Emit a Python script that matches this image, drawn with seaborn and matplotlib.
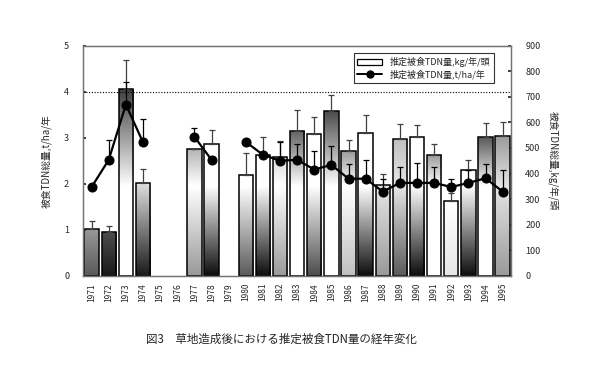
# Recreation of Fig.3: estimated grazed TDN over years after pasture establishment
import numpy as np
import pandas as pd
import matplotlib
matplotlib.use('Agg')
import matplotlib.pyplot as plt
import seaborn as sns
from matplotlib.lines import Line2D
from matplotlib.patches import Patch

# -------------------------------
# DATA
# -------------------------------
years = list(range(1971, 1996))
nan = np.nan

# bars: 推定被食TDN量 kg/年/頭 (right axis)
bar_kg = [182, 170, 730, 364, nan, nan, 496, 516, nan, 396, 471, 466, 565,
          555, 644, 490, 558, 356, 536, 543, 473, 294, 414, 542, 547]
bar_err = [34, 26, 113, 54, nan, nan, 0, 55, nan, 85, 72, 60, 83,
           66, 62, 41, 71, 43, 56, 47, 43, 31, 39, 54, 54]

# line: 推定被食TDN量 t/ha/年 (left axis)
line_t = [1.93, 2.52, 3.72, 2.90, nan, nan, 3.02, 2.52, nan, 2.91, 2.63, 2.50, 2.52,
          2.31, 2.41, 2.11, 2.11, 1.83, 2.02, 2.02, 2.02, 1.93, 2.02, 2.12, 1.83]
line_err = [0, 0.44, 0.49, 0.51, nan, nan, 0.19, 0, nan, 0, 0, 0.41, 0.34,
            0.40, 0.40, 0.33, 0.41, 0.28, 0.35, 0.44, 0.35, 0.18, 0.28, 0.32, 0.47]

# gradient shades of each bar (0 = black, 1 = white)
shade_top = [0.60, 0.30, 0.25, 0.95, nan, nan, 0.70, 1.00, nan, 1.00, 1.00, 0.85, 0.40,
             1.00, 0.30, 0.60, 1.00, 0.85, 0.75, 1.00, 0.60, 1.00, 1.00, 0.35, 0.60]
shade_mid = [0.60, 0.30, 1.00, 0.85, nan, nan, 1.00, 1.00, nan, 1.00, 1.00, 1.00, 1.00,
             1.00, 1.00, 1.00, 1.00, 0.90, 0.90, 1.00, 1.00, 1.00, 1.00, 1.00, 0.90]
shade_bot = [0.35, 0.10, 1.00, 0.10, nan, nan, 0.60, 0.05, nan, 0.35, 0.05, 0.60, 1.00,
             0.30, 1.00, 0.75, 0.05, 0.60, 0.35, 0.05, 1.00, 0.90, 0.05, 1.00, 0.60]
MID_LEVEL = 350

ref_line = 4.0

sns.set_theme(style="white")
plt.rcParams['font.family'] = ['Noto Sans CJK JP', 'DejaVu Sans']

df = pd.DataFrame({
    "year": [str(y) for y in years],
    "kg": bar_kg,
    "t": line_t,
    "pos": np.arange(len(years)),
})
# segments so the line breaks at missing years
df["seg"] = df["t"].isna().cumsum()

fig = plt.figure(figsize=(5.89, 3.67), dpi=100)
ax = fig.add_axes([0.141, 0.248, 0.727, 0.628])
ax2 = ax.twinx()

# -------------------------------
# BARS (right axis)
# -------------------------------
sns.barplot(data=df.dropna(subset=["kg"]), x="year", y="kg", order=df["year"].tolist(),
            ax=ax2, color="white", edgecolor="black", linewidth=1.1, width=0.84,
            errorbar=None)

grad_n = 200
for p in list(ax2.patches):
    h = p.get_height()
    if h <= 0:
        continue
    i = int(round(p.get_x() + p.get_width() / 2))
    yy = np.linspace(0, h, grad_n)
    if h > MID_LEVEL:
        g = np.interp(yy, [0, MID_LEVEL, h], [shade_bot[i], shade_mid[i], shade_top[i]])
    else:
        g = np.interp(yy, [0, h], [shade_bot[i], shade_top[i]])
    img = ax2.imshow(g[:, None], extent=[p.get_x(), p.get_x() + p.get_width(), 0, h],
                     origin="lower", cmap="gray", vmin=0, vmax=1, aspect="auto",
                     zorder=p.get_zorder() - 0.1)
    img.set_clip_path(p)
    p.set_facecolor("none")

ax2.errorbar(df["pos"], df["kg"], yerr=[np.zeros(len(years)), bar_err], fmt="none",
             ecolor="0.25", elinewidth=0.9, capsize=2.5, capthick=0.9)

ax2.set_xlim(-0.5, len(years) - 0.5)
ax2.set_ylim(0, 900)
ax2.set_yticks(range(0, 901, 100))
ax2.set_ylabel("被食TDN総量,kg/年/頭", rotation=270, labelpad=13, fontsize=7)

# -------------------------------
# LINE (left axis)
# -------------------------------
ax.set_zorder(ax2.get_zorder() + 1)
ax.patch.set_visible(False)
ax.axhline(ref_line, color="black", linestyle=(0, (1, 1.5)), linewidth=0.8)
ax.errorbar(df["pos"], df["t"], yerr=[np.zeros(len(years)), line_err], fmt="none",
            ecolor="black", elinewidth=0.9, capsize=2.5, capthick=0.9)
sns.lineplot(data=df.dropna(subset=["t"]), x="pos", y="t", units="seg", estimator=None,
             color="black", linewidth=1.6, marker="o", markersize=6.5,
             markeredgecolor="black", ax=ax)
ax.set_xlim(-0.5, len(years) - 0.5)
ax.set_ylim(0, 5)
ax.set_yticks(range(0, 6))
ax.set_xticks(df["pos"])
ax.set_xticklabels(df["year"], rotation=90, fontsize=6)
ax.set_xlabel("")
ax.set_ylabel("被食TDN総量,t/ha/年", fontsize=7, labelpad=9)

for a in (ax, ax2):
    a.tick_params(axis="y", labelsize=6.5, length=2, direction="in", pad=10)
    a.tick_params(axis="x", length=0, pad=5)
    for s in a.spines.values():
        s.set_color("0.45")
        s.set_linewidth(0.9)
ax2.set_xlabel("")
ax2.tick_params(axis="x", labelbottom=False)

handles = [Patch(facecolor="white", edgecolor="black", linewidth=0.9),
           Line2D([0], [0], color="black", marker="o", markersize=5, linewidth=1.4)]
labels = ["推定被食TDN量,kg/年/頭", "推定被食TDN量,t/ha/年"]
leg = ax.legend(handles, labels, loc="upper right", bbox_to_anchor=(0.97, 0.985),
                fontsize=6.5, frameon=True, fancybox=False, edgecolor="black",
                borderpad=0.4, handlelength=2.8, labelspacing=0.3)
leg.get_frame().set_linewidth(0.8)

fig.text(0.478, 0.075, "図3　草地造成後における推定被食TDN量の経年変化",
         ha="center", va="center", fontsize=8.3)

fig.savefig("out.png", dpi=100)
